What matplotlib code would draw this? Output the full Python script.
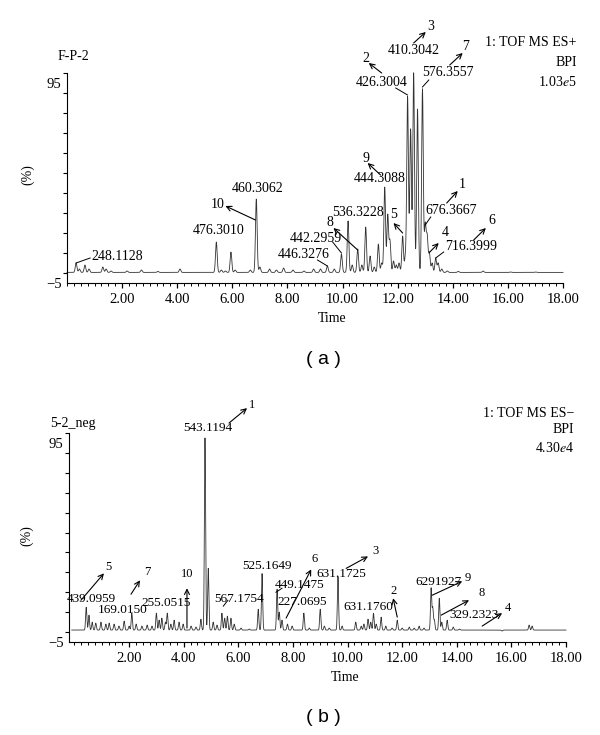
import numpy as np
import matplotlib.pyplot as plt

plt.rcParams['font.family'] = ['Liberation Serif', 'DejaVu Serif']
plt.rcParams['mathtext.fontset'] = 'stix'

# (a) ES+ BPI chromatogram: apex retention times (min) and relative intensity (%)
pos_rt = [0.33, 0.45, 0.65, 0.8, 1.3, 1.42, 1.6, 2.18, 2.7, 3.3, 4.1, 5.42, 5.6, 5.75, 5.95, 6.1,
          6.65, 6.87, 7.0, 7.35, 7.6, 7.86, 8.2, 8.6, 8.95, 9.2, 9.45, 9.7, 9.96, 10.2, 10.35, 10.55,
          10.7, 10.84, 11.0, 11.15, 11.3, 11.42, 11.53, 11.64, 11.72, 11.85, 11.95, 12.05, 12.18,
          12.28, 12.36, 12.47, 12.58, 12.72, 12.9, 13.0, 13.07, 13.15, 13.25, 13.38, 13.47, 13.6,
          13.8, 14.2, 15.1, 16.1, 17.0]
pos_int = [5, 2, 4, 2, 3, 2, 1, 1, 1.5, 0.8, 2, 15.5, 1.5, 1, 10.5, 1.5,
           1.5, 37, 3, 2, 1.5, 2.5, 1.5, 1, 2, 2, 3.5, 2, 9.5, 26, 4, 12,
           4, 23, 8.5, 3, 14.5, 5, 43, 29, 16, 6, 4, 5, 18.5,
           8, 88, 72, 100, 82, 92, 24, 18, 10, 5, 7.5, 5, 2,
           1, 0.8, 1, 0.5, 0.5]

# (b) ES- BPI chromatogram
neg_rt = [0.43, 0.53, 0.65, 0.78, 0.97, 1.15, 1.27, 1.45, 1.63, 1.82, 2.0, 2.1, 2.26, 2.47, 2.66,
          2.84, 3.0, 3.1, 3.2, 3.33, 3.4, 3.53, 3.65, 3.83, 3.98, 4.27, 4.45, 4.63, 4.78, 4.9, 5.08,
          5.22, 5.4, 5.5, 5.6, 5.73, 5.85, 6.1, 6.4, 6.73, 6.87, 7.42, 7.5, 7.6, 7.8, 7.97, 8.4, 8.6,
          9.0, 9.15, 9.33, 9.65, 9.8, 10.3, 10.5, 10.6, 10.75, 10.85, 10.95, 11.05, 11.23, 11.4,
          11.63, 11.82, 12.0, 12.26, 12.44, 12.62, 12.8, 13.06, 13.12, 13.18, 13.36, 13.45, 13.65,
          13.87, 14.1, 14.9, 15.66, 16.65, 16.76]
neg_int = [12.5, 8.5, 5, 4.5, 5, 4, 4.5, 4, 3, 5.5, 3, 9.5, 4, 3, 3.5,
           3, 9.5, 6, 7, 5, 9.5, 4, 6, 5, 4, 3, 2.5, 6.5, 97.5, 32, 5,
           3.5, 9.5, 7, 8, 7, 4, 2, 1.5, 11.5, 29.5, 21.5, 10, 6, 4, 3, 9.5, 2,
           11.5, 3, 2, 28, 3, 5, 3, 4, 6.5, 5, 9.5, 4, 7.5, 3,
           2, 6, 2, 2.5, 2, 3, 2, 22, 12, 6, 17, 5, 6,
           2.5, 1.5, 1, 0.5, 3.5, 3]

xtick_vals = [2, 4, 6, 8, 10, 12, 14, 16, 18]
xtick_labels = ['2.00', '4.00', '6.00', '8.00', '10.00', '12.00', '14.00', '16.00', '18.00']


def chromatogram(rt, inten, width, base, t):
    y = np.full_like(t, base)
    for r, h in zip(rt, inten):
        y += (h - base) * np.exp(-0.5 * ((t - r) / width) ** 2)
    return y


def setup(ax, xmin):
    ax.set_xlim(xmin, 18)
    ax.set_ylim(-5, 100)
    ax.spines['top'].set_visible(False)
    ax.spines['right'].set_visible(False)
    ax.set_xticks(xtick_vals)
    ax.set_xticklabels(xtick_labels)
    ax.set_xticks(np.arange(0, 18.01, 0.25), minor=True)
    ax.set_yticks([-5, 95])
    ax.set_yticklabels(['\u22125', '95'])
    ax.set_yticks(np.arange(0, 101, 10), minor=True)
    ax.tick_params(axis='y', which='major', length=0, labelsize=10.5, pad=4)
    ax.tick_params(axis='y', which='minor', length=3, width=0.8)
    ax.tick_params(axis='x', which='major', length=3.5, width=0.9, labelsize=10.5, pad=4)
    ax.tick_params(axis='x', which='minor', length=2, width=0.7)


def arrow(ax, tail, head):
    ax.annotate('', xy=head, xytext=tail, annotation_clip=False,
                arrowprops=dict(arrowstyle='->', lw=0.8, color='k',
                                shrinkA=0, shrinkB=0, mutation_scale=9))


def leader(ax, p0, p1):
    ax.plot([p0[0], p1[0]], [p0[1], p1[1]], color='k', lw=0.7, clip_on=False)


fig = plt.figure(figsize=(6, 7.35), dpi=100)
ax1 = fig.add_axes([67 / 600, 1 - 283 / 735, 496 / 600, 210 / 735])
ax2 = fig.add_axes([69 / 600, 1 - 642 / 735, 497 / 600, 209 / 735])

t1 = np.arange(0, 18.001, 0.004)
ax1.plot(t1, chromatogram(pos_rt, pos_int, 0.03, 0.3, t1), color='0.2', lw=0.6, clip_on=False)
setup(ax1, 0)

t2 = np.arange(-0.1, 18.001, 0.004)
ax2.plot(t2, chromatogram(neg_rt, neg_int, 0.022, 1.0, t2), color='0.2', lw=0.6, clip_on=False)
setup(ax2, -0.2)

fs = 10
# panel (a) annotations
for txt, x, y, ha in [('248.1128', 0.87, 8.5, 'left'), ('476.3010', 5.49, 21, 'center'),
                      ('460.3062', 6.91, 42, 'center'), ('446.3276', 8.58, 9, 'center'),
                      ('442.2959', 9.02, 17.5, 'center'), ('536.3228', 10.55, 30, 'center'),
                      ('444.3088', 11.35, 47, 'center'), ('426.3004', 11.42, 95, 'center'),
                      ('410.3042', 12.58, 111.5, 'center'), ('576.3557', 13.82, 100.5, 'center'),
                      ('676.3667', 13.93, 31.5, 'center'), ('716.3999', 14.65, 13.5, 'center')]:
    ax1.text(x, y, txt, ha=ha, va='center', fontsize=fs, clip_on=False)

for num, lab, tail, head in [('10', (5.45, 34), (6.84, 26.5), (5.75, 33.5)),
                             ('8', (9.53, 25.5), (10.55, 11.5), (9.67, 22.5)),
                             ('9', (10.84, 57.5), (11.38, 49), (10.91, 55)),
                             ('5', (11.85, 29), (12.18, 20), (11.85, 25)),
                             ('2', (10.84, 107), (11.42, 100), (10.95, 105)),
                             ('3', (13.2, 123), (12.58, 115), (13.02, 120.5)),
                             ('7', (14.47, 113), (13.89, 104), (14.36, 110)),
                             ('1', (14.33, 44.5), (13.78, 35), (14.18, 41)),
                             ('4', (13.71, 20), (13.13, 10), (13.49, 15)),
                             ('6', (15.42, 26), (14.76, 16.5), (15.2, 22.5))]:
    ax1.text(lab[0], lab[1], num, ha='center', va='center', fontsize=fs, clip_on=False)
    arrow(ax1, tail, head)

for p0, p1 in [((0.33, 5), (0.84, 7.5)), ((9.09, 6.5), (9.45, 3.5)), ((9.64, 15.5), (9.96, 10)),
               ((11.93, 92.5), (12.36, 89)), ((13.13, 96.5), (12.9, 93)), ((13.2, 28), (13.0, 24)),
               ((13.38, 7.5), (13.67, 10.5))]:
    leader(ax1, p0, p1)

ax1.text(-0.36, 108, 'F-P-2', ha='left', va='center', fontsize=fs, clip_on=False)
ax1.text(18.5, 115, '1: TOF MS ES+', ha='right', va='center', fontsize=fs, clip_on=False)
ax1.text(18.5, 105, 'BPI', ha='right', va='center', fontsize=fs, clip_on=False)
ax1.text(18.5, 95.5, r'1.03$\mathit{e}$5', ha='right', va='center', fontsize=fs, clip_on=False)
ax1.text(-1.42, 49, '(%)', rotation=90, ha='center', va='center', fontsize=fs, clip_on=False)
ax1.text(9.62, -23, 'Time', ha='center', va='center', fontsize=fs, clip_on=False)

# panel (b) annotations
for txt, x, y in [('439.0959', 0.6, 16.5), ('169.0150', 1.75, 11), ('255.0515', 3.36, 14.5),
                  ('543.1194', 4.9, 102.5), ('567.1754', 6.03, 16.5), ('525.1649', 7.05, 33),
                  ('449.1475', 8.23, 23.5), ('227.0695', 8.33, 15), ('631.1725', 9.77, 29),
                  ('631.1760', 10.75, 12.5), ('6291927', 13.32, 25), ('329.2323', 14.64, 8.5)]:
    ax2.text(x, y, txt, ha='center', va='center', fontsize=9.5, clip_on=False)

for num, lab, tail, head in [('5', (1.23, 32.5), (0.24, 16), (1.08, 29.5)),
                             ('7', (2.66, 30), (2.07, 19), (2.4, 26)),
                             ('10', (4.12, 29), (4.12, 2), (4.12, 22)),
                             ('1', (6.5, 114), (5.66, 105), (6.32, 112.5)),
                             ('6', (8.78, 36.5), (7.75, 7), (8.67, 31.5)),
                             ('3', (11.01, 40.5), (9.95, 32), (10.75, 38)),
                             ('2', (11.67, 20.5), (11.82, 7.5), (11.67, 17)),
                             ('9', (14.42, 27), (13.1, 18.5), (14.2, 25.5)),
                             ('8', (14.9, 19.5), (13.43, 8.5), (14.45, 16)),
                             ('4', (15.88, 12), (14.93, 3), (15.66, 9.5))]:
    ax2.text(lab[0], lab[1], num, ha='center', va='center', fontsize=9, clip_on=False)
    arrow(ax2, tail, head)

for p0, p1 in [((7.38, 20), (7.6, 22)), ((5.45, 13), (5.62, 16))]:
    leader(ax2, p0, p1)

ax2.text(-0.9, 105, '5-2_neg', ha='left', va='center', fontsize=fs, clip_on=False)
ax2.text(18.3, 110, '1: TOF MS ES\u2212', ha='right', va='center', fontsize=fs, clip_on=False)
ax2.text(18.3, 102, 'BPI', ha='right', va='center', fontsize=fs, clip_on=False)
ax2.text(18.3, 92.5, r'4.30$\mathit{e}$4', ha='right', va='center', fontsize=fs, clip_on=False)
ax2.text(-1.74, 48.7, '(%)', rotation=90, ha='center', va='center', fontsize=fs, clip_on=False)
ax2.text(9.9, -22.6, 'Time', ha='center', va='center', fontsize=fs, clip_on=False)

fig.text(323 / 600, 1 - 360 / 735, '( a )', ha='center', va='center', fontsize=14,
         family='Liberation Sans')
fig.text(323 / 600, 1 - 718 / 735, '( b )', ha='center', va='center', fontsize=14,
         family='Liberation Sans')

fig.savefig('out.png', dpi=100)
